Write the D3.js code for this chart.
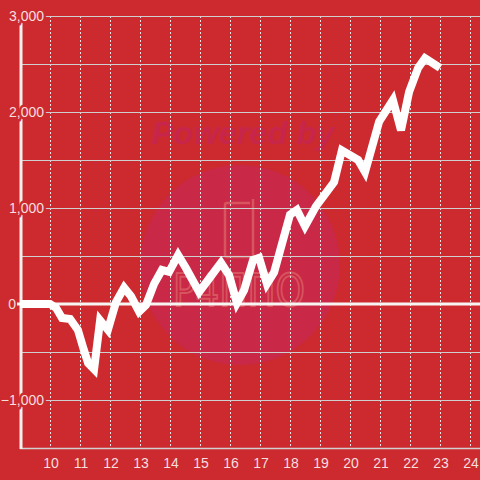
<!DOCTYPE html>
<html><head><meta charset="utf-8">
<script src="https://cdn.jsdelivr.net/npm/d3@7"></script>
<style>html,body{margin:0;padding:0;background:#cc2a2f;}svg{display:block;}</style>
</head><body>
<svg id="c" width="480" height="480"></svg>
<script>
const times = [9,10,10.2,10.4,10.67,10.93,11.13,11.27,11.47,11.67,11.93,12.2,12.47,12.7,12.97,13.2,13.47,13.73,13.97,14.27,14.53,14.97,15.27,15.7,15.97,16.23,16.47,16.77,16.97,17.23,17.47,18.0,18.23,18.5,18.87,19.47,19.73,20.27,20.5,20.97,21.43,21.7,21.97,22.27,22.5,23.0];
const values = [0,0,-40,-146,-156,-270,-480,-615,-680,-170,-270,20,170,80,-80,-10,210,355,335,510,375,125,250,430,300,10,145,460,480,210,330,930,980,810,1020,1270,1600,1500,1375,1900,2125,1810,2210,2460,2560,2460];
const xTicks = [10,11,12,13,14,15,16,17,18,19,20,21,22,23,24];
const yTicks = [-1000,0,1000,2000,3000];
const yGrid = [-1000,-500,0,500,1000,1500,2000,2500,3000];

const svg = d3.select("#c");
const bg = "#cc2a2f";
svg.append("rect").attr("width",480).attr("height",480).attr("fill",bg);

const x = d3.scaleLinear().domain([9, 24.333]).range([20, 480]);
const y = d3.scaleLinear().domain([-1500, 3000]).range([448, 16]);

// watermark
const wm = svg.append("g");
wm.append("circle").attr("cx",240).attr("cy",265).attr("r",100).attr("fill","#c92846");
wm.append("text").attr("x",243).attr("y",144).attr("text-anchor","middle")
  .attr("font-family","Liberation Sans, Arial, sans-serif").attr("font-weight","bold")
  .attr("font-style","italic").attr("font-size",31).attr("fill","#c7264a")
  .attr("textLength",183).attr("lengthAdjust","spacingAndGlyphs").text("Powered by");
wm.append("path").attr("d","M226,203 h24 M253,199 v56 a2,2 0 0 1 -2,2 h-24 a2,2 0 0 1 -2,-2 v-50 a2,2 0 0 1 2,-2")
  .attr("fill","none").attr("stroke","#d8545f").attr("stroke-width",2.5);
wm.append("text").attr("x",239).attr("y",306).attr("text-anchor","middle")
  .attr("font-family","DejaVu Sans, sans-serif").attr("font-size",44).attr("fill","none")
  .attr("stroke","#d8545f").attr("stroke-width",2).attr("textLength",132)
  .attr("lengthAdjust","spacingAndGlyphs").text("P4ППО");

// vertical dotted grid
svg.append("g").selectAll("line").data(xTicks).join("line")
  .attr("x1",d=>x(d)+0.5).attr("x2",d=>x(d)+0.5).attr("y1",y(3000)).attr("y2",448)
  .attr("stroke","#e8e2e2").attr("stroke-width",1).attr("stroke-dasharray","2,2");

// horizontal grid
svg.append("g").selectAll("line").data(yGrid).join("line")
  .attr("x1",20).attr("x2",480).attr("y1",d=>Math.round(y(d))+0.5).attr("y2",d=>Math.round(y(d))+0.5)
  .attr("stroke","#cfcfcf").attr("stroke-width",1);

// bottom axis
svg.append("line").attr("x1",20).attr("x2",480).attr("y1",448.5).attr("y2",448.5)
  .attr("stroke","#d0d0d0").attr("stroke-width",1.5);

// y axis line
svg.append("line").attr("x1",21).attr("x2",21).attr("y1",y(3000)).attr("y2",449)
  .attr("stroke","#f2f0ee").attr("stroke-width",3);

// zero line
svg.append("line").attr("x1",17).attr("x2",480).attr("y1",y(0)).attr("y2",y(0))
  .attr("stroke","#f7f5f3").attr("stroke-width",3);

// data line
const line = d3.line().x((d,i)=>x(times[i])).y(d=>y(d));
svg.append("path").datum(values).attr("d",line).attr("fill","none")
  .attr("stroke","#ffffff").attr("stroke-width",8).attr("stroke-linejoin","miter").attr("stroke-miterlimit",3);

// y labels
svg.append("g").selectAll("text").data(yTicks).join("text")
  .attr("x",d=>d===0?16:44).attr("y",d=>y(d)).attr("dy","0.36em").attr("text-anchor","end")
  .attr("font-family","Liberation Sans, Arial, sans-serif").attr("font-size",14)
  .attr("fill","#f6dede").attr("stroke",d=>d===0?"none":bg).attr("stroke-width",5).attr("paint-order","stroke")
  .text(d=>d3.format(",")(d));

// x labels
svg.append("g").selectAll("text").data(xTicks).join("text")
  .attr("x",d=>x(d)+1).attr("y",468).attr("text-anchor","middle")
  .attr("font-family","Liberation Sans, Arial, sans-serif").attr("font-size",14)
  .attr("fill","#f6dede").text(d=>d);
</script>
</body></html>
